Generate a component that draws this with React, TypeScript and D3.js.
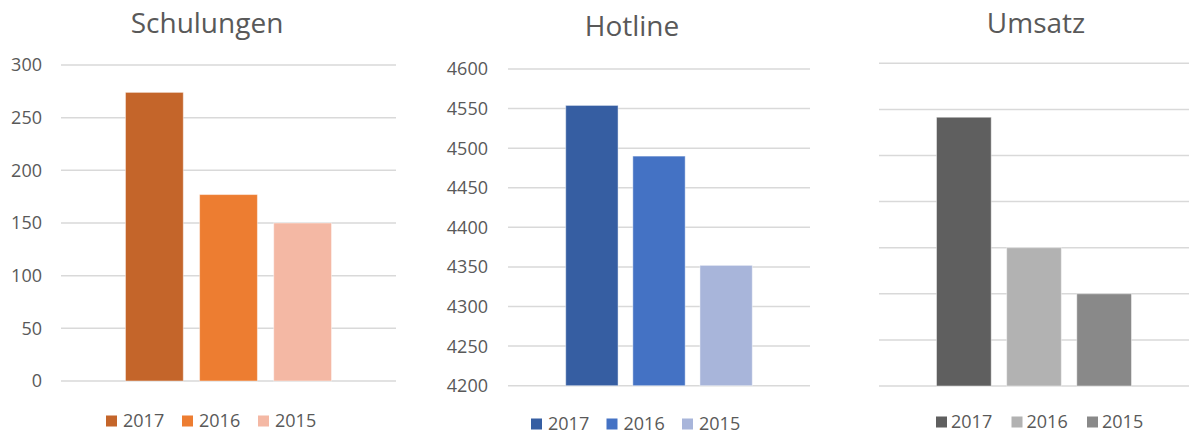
import React from "react";
import * as d3 from "d3";

// ---- Data ----
const years = ["2017", "2016", "2015"];

const schulungenValues = [274, 177, 150];
const schulungenTicks = [0, 50, 100, 150, 200, 250, 300];

const hotlineValues = [4554, 4490, 4352];
const hotlineTicks = [4200, 4250, 4300, 4350, 4400, 4450, 4500, 4550, 4600];

const umsatzValues = [5.83, 3, 2];
const umsatzTicks = [0, 1, 2, 3, 4, 5, 6, 7];

const titles = ["Schulungen", "Hotline", "Umsatz"];

const schulungenColors = ["#C4652A", "#ED7D31", "#F4B8A4"];
const hotlineColors = ["#365EA2", "#4472C4", "#A8B5DA"];
const umsatzColors = ["#5F5F5F", "#B2B2B2", "#898989"];

const FONT = "'Open Sans', 'Noto Sans', sans-serif";
const TEXT = "#595959";
const GRID = "#D9D9D9";

type PanelCfg = {
  title: string;
  values: number[];
  ticks: number[];
  colors: string[];
  showLabels: boolean;
  gridX: [number, number];
  yRange: [number, number];
  padOuter: number;
  labelX: number;
  titleX: number;
  titleY: number;
  legendX: number;
  legendStep: number;
  legendTextOff: number;
  legendY: number;
};

const panels: PanelCfg[] = [
  {
    title: titles[0],
    values: schulungenValues,
    ticks: schulungenTicks,
    colors: schulungenColors,
    showLabels: true,
    gridX: [61, 396],
    yRange: [381, 65],
    padOuter: 0.87,
    labelX: 42,
    titleX: 207,
    titleY: 33,
    legendX: 106,
    legendStep: 76,
    legendTextOff: 17,
    legendY: 421,
  },
  {
    title: titles[1],
    values: hotlineValues,
    ticks: hotlineTicks,
    colors: hotlineColors,
    showLabels: true,
    gridX: [508, 810],
    yRange: [385.7, 69],
    padOuter: 0.86,
    labelX: 488,
    titleX: 632,
    titleY: 36,
    legendX: 531,
    legendStep: 75.5,
    legendTextOff: 17,
    legendY: 424,
  },
  {
    title: titles[2],
    values: umsatzValues,
    ticks: umsatzTicks,
    colors: umsatzColors,
    showLabels: false,
    gridX: [879, 1189],
    yRange: [386, 63.3],
    padOuter: 0.82,
    labelX: 860,
    titleX: 1036,
    titleY: 33,
    legendX: 936,
    legendStep: 75.5,
    legendTextOff: 15,
    legendY: 422,
  },
];

function Panel({ cfg }: { cfg: PanelCfg }) {
  const y = d3
    .scaleLinear()
    .domain([cfg.ticks[0], cfg.ticks[cfg.ticks.length - 1]])
    .range(cfg.yRange);
  const x = d3
    .scaleBand<string>()
    .domain(years)
    .range(cfg.gridX)
    .paddingInner(0.22)
    .paddingOuter(cfg.padOuter);
  const base = y(cfg.ticks[0]);
  return (
    <g>
      <text
        x={cfg.titleX}
        y={cfg.titleY}
        textAnchor="middle"
        fontFamily={FONT}
        fontSize={28}
        fill={TEXT}
      >
        {cfg.title}
      </text>
      {cfg.ticks.map((t) => (
        <g key={t}>
          <line
            x1={cfg.gridX[0]}
            x2={cfg.gridX[1]}
            y1={y(t)}
            y2={y(t)}
            stroke={GRID}
            strokeWidth={1.5}
          />
          {cfg.showLabels && (
            <text
              x={cfg.labelX}
              y={y(t)}
              dy="0.36em"
              textAnchor="end"
              fontFamily={FONT}
              fontSize={18}
              fill={TEXT}
            >
              {t}
            </text>
          )}
        </g>
      ))}
      {years.map((yr, i) => (
        <rect
          key={yr}
          x={x(yr)}
          y={y(cfg.values[i])}
          width={x.bandwidth()}
          height={base - y(cfg.values[i])}
          fill={cfg.colors[i]}
          stroke="#ffffff"
          strokeOpacity={0.45}
          strokeWidth={1}
        />
      ))}
      {years.map((yr, i) => {
        const lx = cfg.legendX + i * cfg.legendStep;
        return (
          <g key={"lg" + yr}>
            <rect
              x={lx}
              y={cfg.legendY - 5.5}
              width={11}
              height={11}
              fill={cfg.colors[i]}
            />
            <text
              x={lx + cfg.legendTextOff}
              y={cfg.legendY}
              dy="0.36em"
              fontFamily={FONT}
              fontSize={18}
              fill={TEXT}
            >
              {yr}
            </text>
          </g>
        );
      })}
    </g>
  );
}

export default function App() {
  return (
    <svg
      width={1189}
      height={436}
      style={{ position: "absolute", left: 0, top: 0, background: "#fff" }}
    >
      <rect width={1189} height={436} fill="#fff" />
      {panels.map((p) => (
        <Panel key={p.title} cfg={p} />
      ))}
    </svg>
  );
}
